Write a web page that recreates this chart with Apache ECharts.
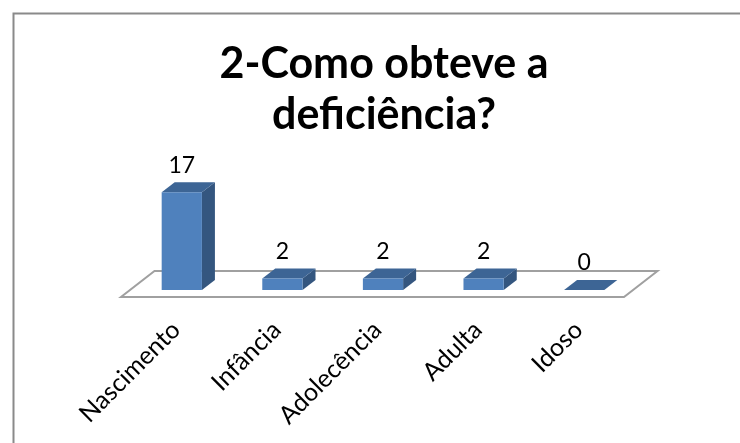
<!DOCTYPE html>
<html>
<head>
<meta charset="utf-8">
<script src="https://cdn.jsdelivr.net/npm/echarts@6/dist/echarts.min.js"></script>
<style>
  html, body { margin: 0; padding: 0; background: #fff; }
  #chart { width: 740px; height: 443px; }
</style>
</head>
<body>
<div id="chart"></div>
<script>
const categories = ["Nascimento", "Infância", "Adolecência", "Adulta", "Idoso"];
const counts = [17, 2, 2, 2, 0];

const FONT = "Lato, 'Noto Sans', sans-serif";
const BAR_RATIO = 0.4;
// pseudo-3d depth of each column and of the floor
const BAR_DX = 13, BAR_DY = 10;
const FLOOR_FRONT = [-10.5, 7];
const FLOOR_BACK = [23, -19];

function renderFloor(params, api) {
  const cs = params.coordSys;
  const l = cs.x, r = cs.x + cs.width, b = cs.y + cs.height;
  return {
    type: "polygon",
    shape: {
      points: [
        [l + FLOOR_FRONT[0], b + FLOOR_FRONT[1]],
        [r + FLOOR_FRONT[0], b + FLOOR_FRONT[1]],
        [r + FLOOR_BACK[0], b + FLOOR_BACK[1]],
        [l + FLOOR_BACK[0], b + FLOOR_BACK[1]],
      ],
    },
    style: { fill: "#fff", stroke: "#a0a0a0", lineWidth: 2 },
  };
}

function renderBar(params, api) {
  const i = api.value(0);
  const v = api.value(1);
  const top = api.coord([i, v]);
  const base = api.coord([i, 0]);
  const bw = api.size([1, 0])[0] * BAR_RATIO;
  const x0 = top[0] - bw / 2, x1 = x0 + bw;
  const yt = top[1], yb = base[1];
  return {
    type: "group",
    children: [
      {
        type: "polygon",
        shape: { points: [[x1, yt], [x1 + BAR_DX, yt - BAR_DY], [x1 + BAR_DX, yb - BAR_DY], [x1, yb]] },
        style: { fill: "#34567f" },
      },
      {
        type: "polygon",
        shape: { points: [[x0, yt], [x0 + BAR_DX, yt - BAR_DY], [x1 + BAR_DX, yt - BAR_DY], [x1, yt]] },
        style: { fill: "#3d6595" },
      },
      {
        type: "rect",
        shape: { x: x0, y: yt, width: bw, height: yb - yt },
        style: { fill: "#4f81bd" },
      },
      {
        type: "text",
        x: x0 + bw / 2, y: yt - 27,
        style: {
          text: String(v), fill: "#000", font: "23px " + FONT,
          align: "center", verticalAlign: "middle",
        },
      },
    ],
  };
}

const chart = echarts.init(document.getElementById("chart"), null, { renderer: "canvas" });
chart.setOption({
  animation: false,
  title: {
    text: "2-Como obteve a\ndeficiência?",
    left: 379, top: 34, textAlign: "center",
    textStyle: { fontFamily: FONT, fontWeight: "bold", fontSize: 43, lineHeight: 51, color: "#000" },
  },
  graphic: [{
    type: "rect", left: 11, top: 11, z: -10,
    shape: { width: 800, height: 500 },
    style: { fill: "none", stroke: "#8a8a8a", lineWidth: 2 },
  }],
  grid: { left: 131.5, right: 105.5, top: 186.5, bottom: 153 },
  xAxis: {
    type: "category", data: categories,
    axisLine: { show: false }, axisTick: { show: false },
    axisLabel: {
      rotate: 45, margin: 30, interval: 0, padding: [0, 8, 0, 0],
      fontFamily: FONT, fontSize: 25, color: "#000",
    },
  },
  yAxis: { type: "value", min: 0, max: 18, show: false },
  series: [
    { type: "custom", renderItem: renderFloor, data: [[0, 0]], z: 1, silent: true },
    { type: "custom", renderItem: renderBar, data: counts.map((v, i) => [i, v]), z: 2 },
  ],
});
</script>
</body>
</html>
